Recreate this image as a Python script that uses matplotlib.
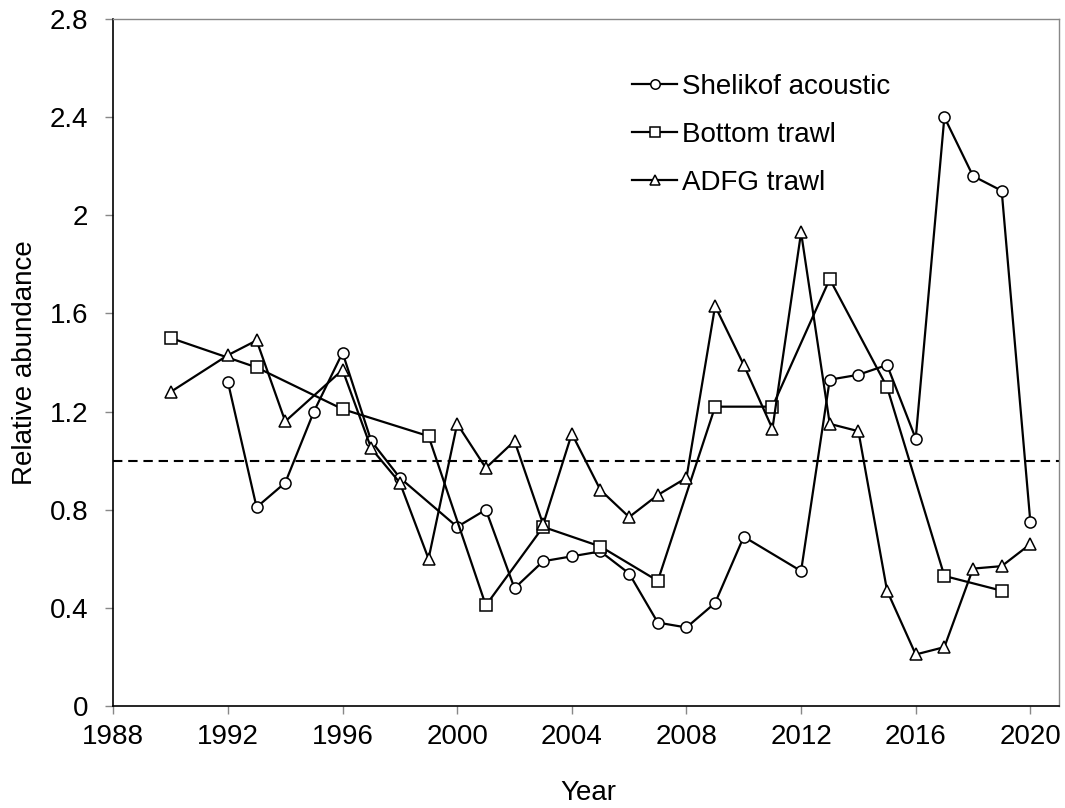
import matplotlib
matplotlib.use("Agg")
import matplotlib.pyplot as plt
from matplotlib.ticker import FixedLocator

plt.rcParams['font.family'] = ['Liberation Sans', 'DejaVu Sans']

# Data
shelikof_years = [1992, 1993, 1994, 1995, 1996, 1997, 1998, 2000, 2001, 2002, 2003, 2004,
                  2005, 2006, 2007, 2008, 2009, 2010, 2012, 2013, 2014, 2015, 2016, 2017,
                  2018, 2019, 2020]
shelikof_vals = [1.32, 0.81, 0.91, 1.20, 1.44, 1.08, 0.93, 0.73, 0.80, 0.48, 0.59, 0.61,
                 0.63, 0.54, 0.34, 0.32, 0.42, 0.69, 0.55, 1.33, 1.35, 1.39, 1.09, 2.40,
                 2.16, 2.10, 0.75]

bottom_years = [1990, 1993, 1996, 1999, 2001, 2003, 2005, 2007, 2009, 2011, 2013, 2015,
                2017, 2019]
bottom_vals = [1.50, 1.38, 1.21, 1.10, 0.41, 0.73, 0.65, 0.51, 1.22, 1.22, 1.74, 1.30,
               0.53, 0.47]

adfg_years = [1990, 1992, 1993, 1994, 1996, 1997, 1998, 1999, 2000, 2001, 2002, 2003,
              2004, 2005, 2006, 2007, 2008, 2009, 2010, 2011, 2012, 2013, 2014, 2015,
              2016, 2017, 2018, 2019, 2020]
adfg_vals = [1.28, 1.43, 1.49, 1.16, 1.37, 1.05, 0.91, 0.60, 1.15, 0.97, 1.08, 0.74,
             1.11, 0.88, 0.77, 0.86, 0.93, 1.63, 1.39, 1.13, 1.93, 1.15, 1.12, 0.47,
             0.21, 0.24, 0.56, 0.57, 0.66]

series_names = ["Shelikof acoustic", "Bottom trawl", "ADFG trawl"]
x_ticks = [1988, 1992, 1996, 2000, 2004, 2008, 2012, 2016, 2020]
y_ticks = [0, 0.4, 0.8, 1.2, 1.6, 2.0, 2.4, 2.8]
y_tick_labels = ["0", "0.4", "0.8", "1.2", "1.6", "2", "2.4", "2.8"]
reference_level = 1.0

FS = 20

fig = plt.figure(figsize=(10.65, 8.08), dpi=100)
ax = fig.add_axes([113.3 / 1065, 1 - 706 / 808, (1059 - 113.3) / 1065, (706 - 19) / 808])

common = dict(color='black', linewidth=1.6, markerfacecolor='white',
              markeredgecolor='black', markeredgewidth=1.1)
ax.plot(shelikof_years, shelikof_vals, marker='o', markersize=8, label=series_names[0], **common)
ax.plot(bottom_years, bottom_vals, marker='s', markersize=8, label=series_names[1], **common)
ax.plot(adfg_years, adfg_vals, marker='^', markersize=9, label=series_names[2], **common)

ax.axhline(reference_level, color='black', linewidth=1.5, linestyle=(0, (4.5, 2.8)), zorder=1)

ax.set_xlim(1988, 2021)
ax.set_ylim(0, 2.8)
ax.xaxis.set_major_locator(FixedLocator(x_ticks))
ax.set_yticks(y_ticks)
ax.set_yticklabels(y_tick_labels)
ax.tick_params(axis='both', labelsize=FS, direction='out', length=6, width=1,
               color='#888888')
ax.tick_params(axis='x', pad=7)
ax.tick_params(axis='y', pad=12)

for side in ['left', 'bottom']:
    ax.spines[side].set_color('black')
    ax.spines[side].set_linewidth(1.2)
for side in ['top', 'right']:
    ax.spines[side].set_color('#888888')
    ax.spines[side].set_linewidth(1.0)

ax.set_xlabel("Year", fontsize=FS)
ax.set_ylabel("Relative abundance", fontsize=FS)
ax.xaxis.set_label_coords(0.502, -0.1075)
ax.yaxis.set_label_coords(-0.080, 0.5)

leg = ax.legend(loc='upper left', bbox_to_anchor=(0.537, 0.936), frameon=False,
                fontsize=FS, handlelength=1.62, handletextpad=0.18, labelspacing=0.79,
                markerscale=0.85, borderaxespad=0)

fig.savefig("out.png", dpi=100)
